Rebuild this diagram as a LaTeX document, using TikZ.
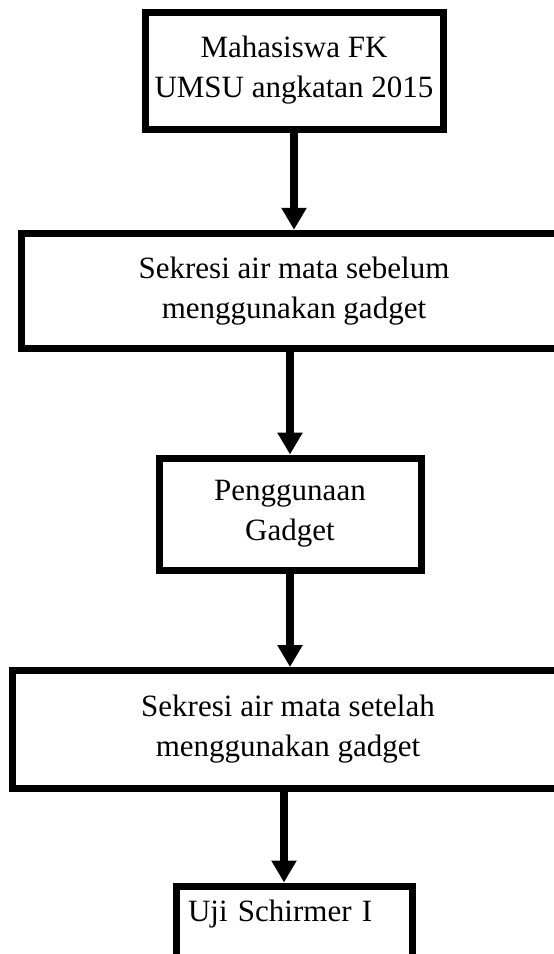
\documentclass[tikz,border=0pt]{standalone}
\usepackage{fontspec}
\setmainfont{Liberation Serif}
\usetikzlibrary{arrows.meta}
\begin{document}
\begin{tikzpicture}[x=1pt,y=-1pt,
  box/.style={draw=black, line width=7pt, fill=white, inner sep=0pt, align=center,
    font=\fontsize{31}{40}\selectfont},
  arr/.style={line width=8pt, -{Triangle[width=24pt,length=22pt]}}]
\useasboundingbox (0,0) rectangle (554,954);
\clip (0,0) rectangle (554,954);
\node[box, minimum width=298pt, minimum height=117pt] (b1) at (294,70.5) {Mahasiswa FK\\UMSU angkatan 2015};
\node[box, minimum width=546pt, minimum height=115.5pt] (b2) at (294,291) {Sekresi air mata sebelum\\menggunakan gadget};
\node[box, minimum width=262pt, minimum height=112pt] (b3) at (290,514) {Penggunaan\\Gadget};
\node[box, minimum width=552pt, minimum height=118pt] (b4) at (288,729.5) {Sekresi air mata setelah\\menggunakan gadget};
\node[box, anchor=north, text width=212pt, inner xsep=12pt, align=left, text height=35.5pt, text depth=100pt] (b5) at (294,882.5) {Uji Schirmer I};
\coordinate (t5) at ([xshift=-10pt]b5.north);
\draw[arr] (b1.south) -- (b2.north -| b1.south);
\draw[arr] (b2.south -| b3.north) -- (b3.north);
\draw[arr] (b3.south) -- (b4.north -| b3.south);
\draw[arr] (b4.south -| t5) -- (t5);
\end{tikzpicture}
\end{document}
